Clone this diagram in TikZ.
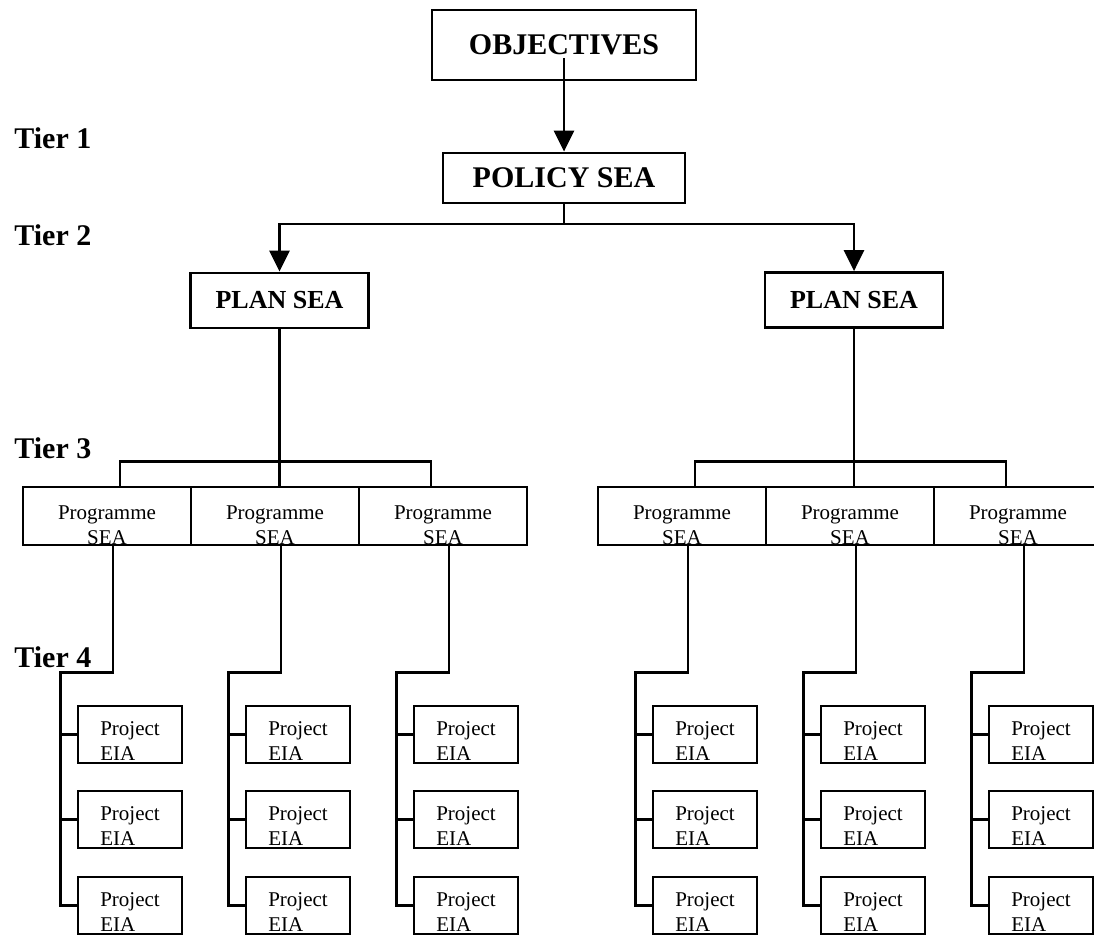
\documentclass[tikz,border=0pt]{standalone}
\usepackage{fontspec}
\setmainfont{Liberation Serif}
\usetikzlibrary{positioning,arrows.meta}

\tikzset{
  headbox/.style={draw, inner sep=0pt, font=\fontsize{30}{32}\selectfont\bfseries},
  planbox/.style={draw, inner sep=0pt, minimum width=178pt, minimum height=55pt,
    font=\fontsize{26}{28}\selectfont\bfseries},
  progbox/.style={draw, inner sep=0pt, minimum width=168pt, align=center,
    text height=57pt, text depth=1pt, font=\fontsize{21}{25}\selectfont},
  projbox/.style={draw, inner sep=0pt, minimum width=104pt, align=left,
    text height=54pt, text depth=3pt, font=\fontsize{21}{25}\selectfont},
  tier/.style={anchor=base west, inner sep=0pt, font=\fontsize{30}{32}\selectfont\bfseries}
}

\begin{document}
\begin{tikzpicture}[x=1pt, y=-1pt, line width=2.8pt, >={Triangle[width=20pt,length=21pt]}]

\useasboundingbox (0,0) rectangle (1094,938);

\node [headbox, minimum width=264pt, minimum height=70pt] (obj) at (564,45) {OBJECTIVES};
\node [headbox, minimum width=242pt, minimum height=50pt] (pol) at (564,178) {POLICY SEA};
\node [planbox] (plan-1) at (279.5,300.5) {PLAN SEA};
\node [planbox] (plan-2) at (854,300) {PLAN SEA};

\foreach \l/\y [count=\i] in {1/148,2/245,3/458,4/667}
  \node [tier] (tier-\i) at (13,\y) {Tier \l};

\foreach \cx [count=\k] in {107,275,443,682,850,1018} {
  \node [progbox] (prog-\k) at (\cx,516) {Programme\\SEA};
  \foreach \cy [count=\r] in {734.5,819.5,905.5}
    \node [projbox] (proj-\k-\r) at ({\cx+23},\cy) {Project\\EIA};
}

\draw [->] ([yshift=-13pt]obj.center) -- (pol);
\coordinate (split) at (564,224);
\draw (pol.south) -- (split);
\draw [->] (split) -| (plan-1.north);
\draw [->] (split) -| (plan-2.north);

\draw (plan-1.south) -- (plan-1.south |- prog-2.north);
\draw (plan-2.south) -- (plan-2.south |- prog-5.north);
\draw ([xshift=13pt]prog-1.north) -- ++(0,-24) -| ([xshift=-12pt]prog-3.north);
\draw ([xshift=13pt]prog-4.north) -- ++(0,-24) -| ([xshift=-12pt]prog-6.north);

\foreach \k in {1,...,6} {
  \coordinate (knee-\k) at ([shift={(-16pt,32pt)}]proj-\k-1.north west);
  \draw ([xshift=6pt]prog-\k.south) |- (knee-\k) |- (proj-\k-3.west);
  \foreach \r in {1,2}
    \draw (knee-\k |- proj-\k-\r.west) -- (proj-\k-\r.west);
}
\end{tikzpicture}
\end{document}
